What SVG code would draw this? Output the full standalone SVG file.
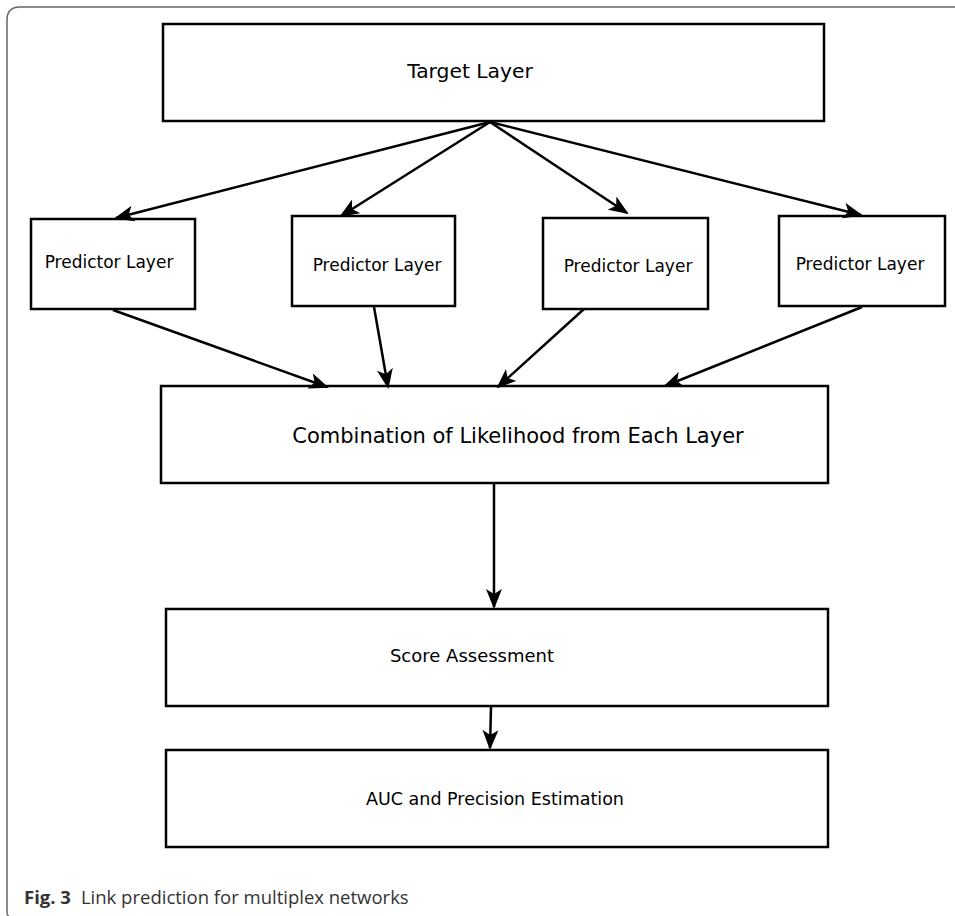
<svg xmlns="http://www.w3.org/2000/svg" width="955" height="916" viewBox="0 0 955 916">
<style>
.box{fill:#fff;stroke:#000;stroke-width:2.5}
.t{font-family:"DejaVu Sans",sans-serif;fill:#000;text-anchor:middle}
.small{font-size:17px}
.c{stroke:#000;stroke-width:2.5;fill:none;marker-end:url(#ah)}
</style>
<defs>
<marker id="ah" viewBox="0 0 20 16" refX="18" refY="8" markerWidth="20" markerHeight="16" markerUnits="userSpaceOnUse" orient="auto">
<path d="M0,0 L20,8 L0,16 L5,8 Z" fill="#000"/>
</marker>
</defs>
<rect width="955" height="916" fill="#fff"/>
<path d="M7,912 Q7,916 9,916 M7,912 L7,20 Q7,7 20,7 L955,7" fill="none" stroke="#666" stroke-width="1.5"/>
<g id="target"><rect class="box" x="163" y="24" width="661" height="97"/><text class="t" font-size="20.3" x="470" y="78">Target Layer</text></g>
<g id="pred1"><rect class="box" x="31" y="219" width="164" height="90"/><text class="t small" x="109" y="268">Predictor Layer</text></g>
<g id="pred2"><rect class="box" x="292" y="216" width="163" height="90"/><text class="t small" x="377" y="271">Predictor Layer</text></g>
<g id="pred3"><rect class="box" x="543" y="218" width="165" height="91"/><text class="t small" x="628" y="272">Predictor Layer</text></g>
<g id="pred4"><rect class="box" x="779" y="216" width="166" height="90"/><text class="t small" x="860" y="270">Predictor Layer</text></g>
<g id="comb"><rect class="box" x="161" y="386" width="667" height="97"/><text class="t" font-size="21" x="518" y="443">Combination of Likelihood from Each Layer</text></g>
<g id="score"><rect class="box" x="166" y="609" width="662" height="97"/><text class="t" font-size="18" x="472" y="662">Score Assessment</text></g>
<g id="auc"><rect class="box" x="166" y="750" width="662" height="97"/><text class="t" font-size="17.5" x="495" y="805">AUC and Precision Estimation</text></g>
<g id="connectors">
<line class="c" x1="490" y1="122" x2="116" y2="218"/>
<line class="c" x1="490" y1="122" x2="341" y2="216"/>
<line class="c" x1="490" y1="122" x2="627" y2="213"/>
<line class="c" x1="490" y1="122" x2="861" y2="215"/>
<line class="c" x1="113" y1="310" x2="327" y2="387"/>
<line class="c" x1="374" y1="307" x2="388" y2="387"/>
<line class="c" x1="584" y1="309" x2="498" y2="387"/>
<line class="c" x1="862" y1="307" x2="665" y2="386"/>
<line class="c" x1="494" y1="484" x2="494" y2="607"/>
<line class="c" x1="491" y1="707" x2="490" y2="748"/>
</g>
<text x="24" y="904" font-family="'Open Sans',sans-serif" font-size="18.5" fill="#333"><tspan font-weight="bold">Fig. 3</tspan><tspan dx="10">Link prediction for multiplex networks</tspan></text>
</svg>
